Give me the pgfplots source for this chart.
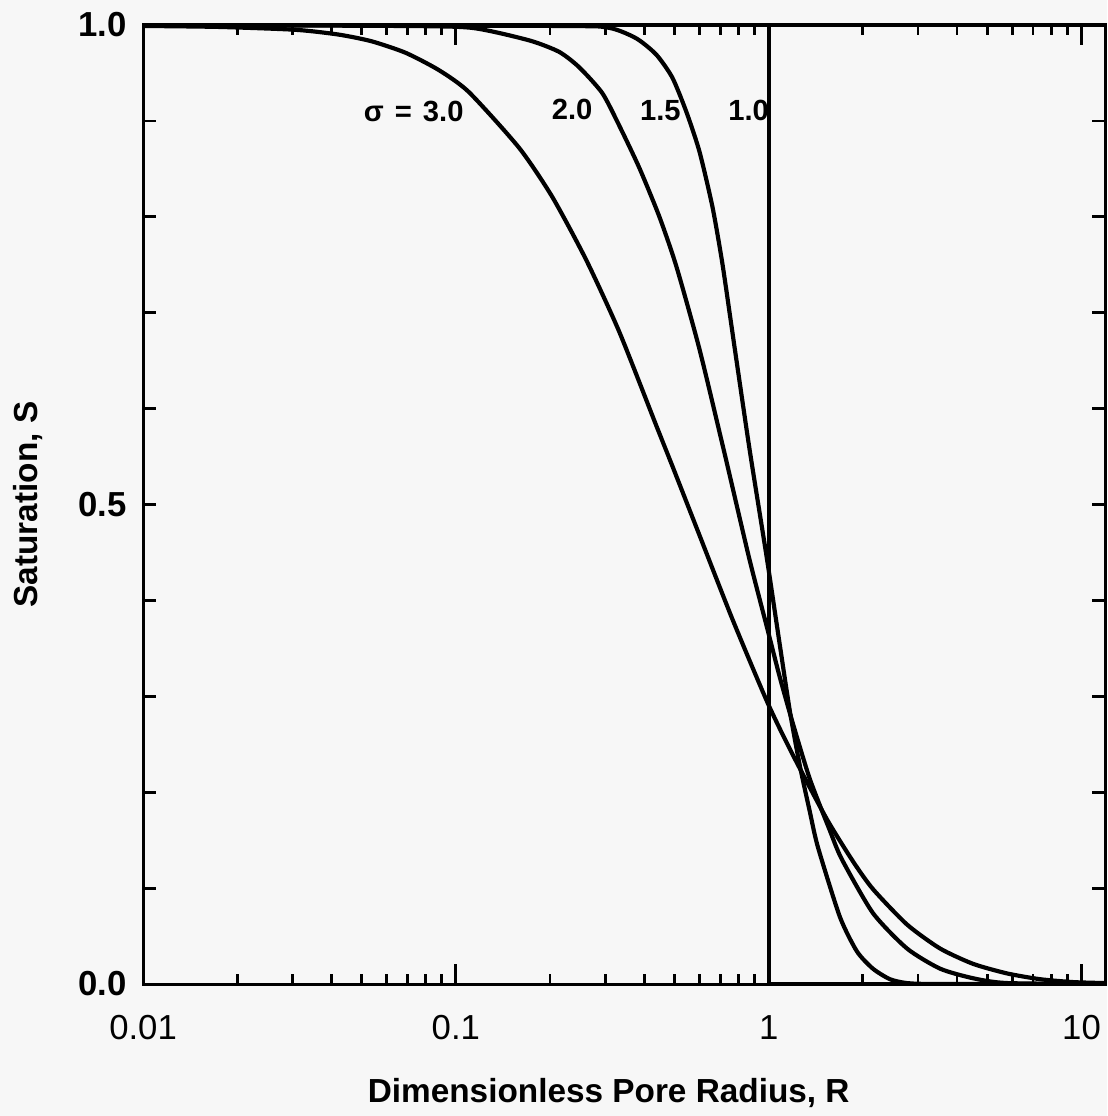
\documentclass[border=0pt]{standalone}
\usepackage{pgfplots}
\pgfplotsset{compat=1.18}
\usepackage{fontspec}
\setmainfont{Liberation Sans}
\definecolor{bg}{RGB}{247,247,247}

\begin{document}
\begin{tikzpicture}
\fill[bg] (-51.5pt,-47.5pt) rectangle (347pt,354.2pt);
\begin{axis}[
  at={(0,0)}, anchor=south west,
  scale only axis, width=346.3pt, height=345.2pt,
  xmode=log, xmin=0.01, xmax=11.9, ymin=0, ymax=1,
  axis line style={line width=1.1pt},
  tick align=inside, tick pos=both,
  xtick={0.01,0.1,1,10}, xticklabels={0.01,0.1,1,10},
  minor xtick={0.02,0.03,0.04,0.05,0.06,0.07,0.08,0.09,0.2,0.3,0.4,0.5,0.6,0.7,0.8,0.9,2,3,4,5,6,7,8,9},
  ytick={0,0.1,0.2,0.3,0.4,0.5,0.6,0.7,0.8,0.9,1},
  yticklabels={0.0,,,,,0.5,,,,,1.0},
  major tick length=7.2pt, minor tick length=3.6pt,
  ytick style={/pgfplots/major tick length=4.7pt},
  every tick/.style={line width=1.0pt, black},
  xticklabel style={font=\fontsize{12.5}{14}\selectfont, yshift=-7.7pt},
  yticklabel style={font=\bfseries\fontsize{12.5}{14}\selectfont, xshift=-2.3pt},
  xlabel={Dimensionless Pore Radius, R},
  ylabel={Saturation, S},
  label style={font=\bfseries\fontsize{12}{14}\selectfont},
  xlabel style={at={(axis description cs:0.484,-0.0886)}, anchor=north},
  ylabel style={at={(axis description cs:-0.12,0.5)}, anchor=center},
]
% sigma = 3.0
\addplot[black, no markers, line width=1.5pt, smooth, tension=0.4] coordinates {
(0.01,0.999) (0.0174,0.998) (0.0307,0.995) (0.0422,0.990) (0.0538,0.983)
(0.0691,0.971) (0.0882,0.953) (0.1101,0.930) (0.1592,0.872) (0.2031,0.821)
(0.2610,0.755) (0.3330,0.680) (0.4375,0.582) (0.4923,0.540) (0.6008,0.468)
(0.7667,0.380) (0.9927,0.293) (1.194,0.239) (1.534,0.172) (1.859,0.128)
(2.154,0.099) (2.769,0.062) (3.533,0.037) (4.506,0.021) (5.792,0.011)
(7.389,0.005) (9.427,0.002) (11.9,0.001)
};
% sigma = 2.0
\addplot[black, no markers, line width=1.5pt, smooth, tension=0.4] coordinates {
(0.01,1.000) (0.0657,0.999) (0.1126,0.997) (0.1714,0.984) (0.2138,0.972)
(0.2477,0.956) (0.2938,0.929) (0.3330,0.895) (0.3859,0.851) (0.4473,0.800)
(0.5071,0.748) (0.6008,0.662) (0.7122,0.562) (0.7499,0.531) (0.8692,0.442)
(0.9927,0.369) (1.085,0.320) (1.194,0.272) (1.353,0.214) (1.569,0.160)
(1.714,0.130) (2.154,0.074) (2.769,0.037) (3.533,0.016) (4.506,0.006)
(5.792,0.001) (11.9,0.0)
};
% sigma = 1.5
\addplot[black, no markers, line width=1.5pt, smooth, tension=0.4] coordinates {
(0.01,1.000) (0.2138,0.999) (0.3093,0.997) (0.3776,0.986) (0.4375,0.969)
(0.4923,0.945) (0.5461,0.909) (0.6008,0.868) (0.6614,0.810) (0.7122,0.750)
(0.778,0.664) (0.8692,0.557) (0.9854,0.445) (1.061,0.375) (1.168,0.285)
(1.257,0.228) (1.353,0.180) (1.436,0.143) (1.689,0.070) (1.915,0.034)
(2.154,0.016) (2.442,0.005) (2.769,0.001) (3.5,0.0) (11.9,0.0)
};
% sigma = 1.0
\addplot[black, no markers, line width=1.5pt] coordinates {
(0.01,1) (1,1) (1,0) (11.9,0)
};
\node[font=\bfseries\fontsize{10.5}{12}\selectfont] at (axis cs:0.0733,0.910) {σ\hspace{4pt}=\hspace{4pt}3.0};
\node[font=\bfseries\fontsize{10.5}{12}\selectfont] at (axis cs:0.2353,0.912) {2.0};
\node[font=\bfseries\fontsize{10.5}{12}\selectfont] at (axis cs:0.4506,0.911) {1.5};
\node[font=\bfseries\fontsize{10.5}{12}\selectfont] at (axis cs:0.863,0.911) {1.0};
\end{axis}
\pgfresetboundingbox
\useasboundingbox (-51.5pt,-47.5pt) rectangle (347pt,354.2pt);
\end{tikzpicture}
\end{document}
